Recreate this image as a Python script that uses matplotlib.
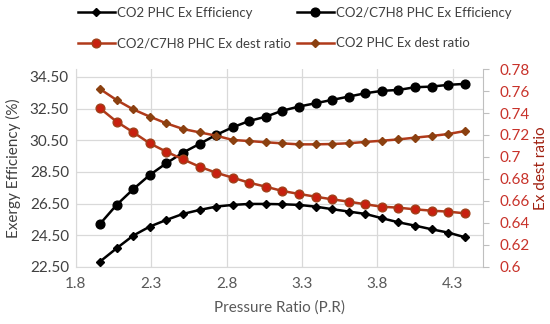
import matplotlib
matplotlib.use("Agg")

import matplotlib.pyplot as plt
from matplotlib.ticker import FormatStrFormatter, FuncFormatter

plt.rcParams["font.family"] = ["Lato", "DejaVu Sans"]

# pressure ratio (x)
pr = [1.96, 2.07, 2.18, 2.29, 2.40, 2.51, 2.62, 2.73, 2.84, 2.95, 3.06, 3.17,
      3.28, 3.39, 3.50, 3.61, 3.72, 3.83, 3.94, 4.05, 4.16, 4.27, 4.38]

# exergy efficiency (%), left axis
co2_eff = [22.84, 23.68, 24.48, 25.05, 25.47, 25.85, 26.10, 26.31, 26.42, 26.48,
           26.48, 26.46, 26.42, 26.31, 26.15, 26.00, 25.85, 25.58, 25.32, 25.11,
           24.88, 24.67, 24.38]
mix_eff = [25.22, 26.42, 27.41, 28.31, 29.05, 29.72, 30.27, 30.84, 31.32, 31.72,
           31.99, 32.37, 32.63, 32.84, 33.05, 33.26, 33.47, 33.62, 33.68, 33.85,
           33.89, 34.00, 34.06]

# exergy destruction ratio, right axis
mix_dest = [0.7443, 0.7321, 0.7225, 0.7124, 0.7048, 0.6979, 0.6912, 0.6857,
            0.6812, 0.6766, 0.6730, 0.6691, 0.6664, 0.6639, 0.6615, 0.6594,
            0.6570, 0.6548, 0.6539, 0.6524, 0.6512, 0.6503, 0.6488]
co2_dest = [0.7618, 0.7518, 0.7433, 0.7367, 0.7306, 0.7255, 0.7224, 0.7194,
            0.7155, 0.7145, 0.7134, 0.7124, 0.7115, 0.7115, 0.7118, 0.7125,
            0.7137, 0.7148, 0.7160, 0.7176, 0.7191, 0.7209, 0.7236]

x_ticks = [1.8, 2.3, 2.8, 3.3, 3.8, 4.3]
left_ticks = [22.5, 24.5, 26.5, 28.5, 30.5, 32.5, 34.5]
right_ticks = [0.6, 0.62, 0.64, 0.66, 0.68, 0.7, 0.72, 0.74, 0.76, 0.78]

GRID = "#D9D9D9"
TXT = "#595959"
RED_LINE = "#B03A1A"
RED_TXT = "#C8322A"

fig = plt.figure(figsize=(5.5, 3.24), dpi=100)
ax = fig.add_axes([0.138, 0.176, 0.740, 0.611])
ax2 = ax.twinx()

l1, = ax.plot(pr, co2_eff, color="black", lw=1.8, marker="D", ms=4.5,
              label="CO2 PHC Ex Efficiency", zorder=3)
l2, = ax.plot(pr, mix_eff, color="black", lw=1.8, marker="o", ms=6.3,
              label="CO2/C7H8 PHC Ex Efficiency", zorder=3)
l3, = ax2.plot(pr, mix_dest, color=RED_LINE, lw=1.8, marker="o", ms=6.3,
               mfc="#C8200F", mec="#A0401A", label="CO2/C7H8 PHC Ex dest ratio")
l4, = ax2.plot(pr, co2_dest, color=RED_LINE, lw=1.8, marker="D", ms=4.5,
               mfc="#8B4010", mec="#8B4010", label="CO2 PHC Ex dest ratio")

ax.set_xlim(1.8, 4.5)
ax.set_ylim(22.5, 35.0)
ax2.set_ylim(0.6, 0.78)

ax.set_xticks(x_ticks)
ax.xaxis.set_major_formatter(FormatStrFormatter("%.1f"))
ax.set_yticks(left_ticks)
ax.yaxis.set_major_formatter(FormatStrFormatter("%.2f"))
ax2.set_yticks(right_ticks)
ax2.yaxis.set_major_formatter(FuncFormatter(lambda v, p: f"{v:g}"))

ax.grid(True, color=GRID, lw=0.9)
ax.set_axisbelow(True)

for s in ["top", "right"]:
    ax.spines[s].set_visible(False)
ax.spines["left"].set_color(GRID)
ax.spines["bottom"].set_color(GRID)
ax2.spines["top"].set_visible(False)
ax2.spines["left"].set_visible(False)
ax2.spines["bottom"].set_visible(False)
ax2.spines["right"].set_color("#BFBFBF")

ax.tick_params(axis="both", length=0, labelsize=11, colors=TXT, pad=7)
ax.tick_params(axis="y", labelcolor="#404040", pad=5)
ax2.tick_params(axis="y", length=4, color="#BFBFBF", labelsize=11,
                labelcolor=RED_TXT, pad=8)

ax.set_xlabel("Pressure Ratio (P.R)", fontsize=11, color=TXT, labelpad=7)
ax.set_ylabel("Exergy Efficiency (%)", fontsize=11, color="#404040", labelpad=6)
ax2.set_ylabel("Ex dest ratio", fontsize=11, color="#A02010", labelpad=3)

fig.legend(handles=[l1, l3, l2, l4], ncol=2, loc="upper left",
           bbox_to_anchor=(0.12, 1.015), frameon=False, fontsize=9.5,
           handlelength=2.8, handletextpad=0.2, columnspacing=0.4,
           labelspacing=1.4, labelcolor="#404040")

fig.savefig("out.png", dpi=100, facecolor="white")
